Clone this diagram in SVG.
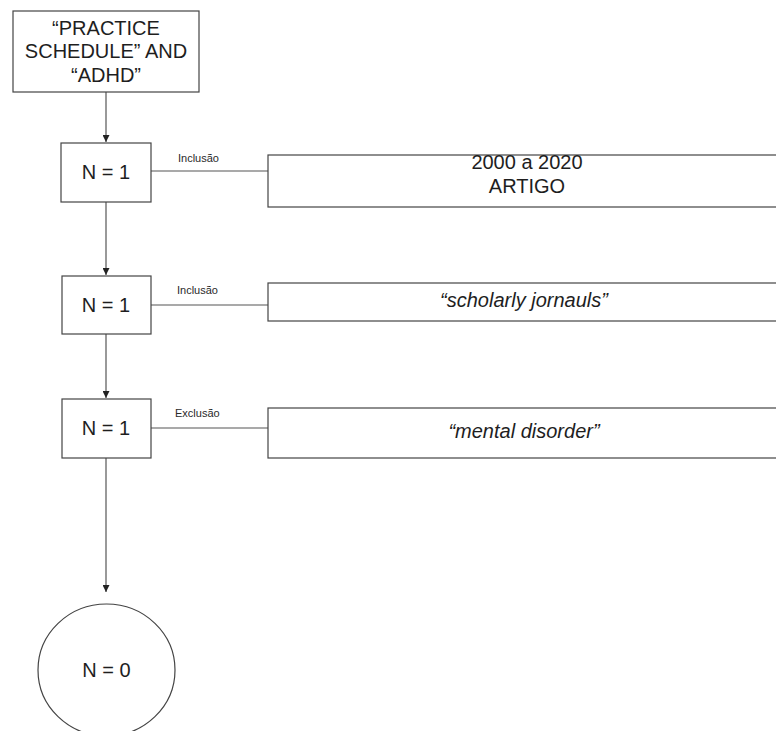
<svg xmlns="http://www.w3.org/2000/svg" width="776" height="731" viewBox="0 0 776 731">
  <style>
    .box { fill: #ffffff; stroke: #444444; stroke-width: 1.2; }
    .line { fill: none; stroke: #555555; stroke-width: 1.2; }
    .main { font-family: "Liberation Sans", Arial, sans-serif; font-size: 20px; fill: #1e1e1e; text-anchor: middle; }
    .it { font-style: italic; }
    .lbl { font-family: "Liberation Sans", Arial, sans-serif; font-size: 11px; fill: #2a2a2a; }
  </style>
  <defs>
    <marker id="arrow" viewBox="0 0 10 10" refX="10" refY="5" markerWidth="7" markerHeight="7" orient="auto" markerUnits="userSpaceOnUse">
      <path d="M0,0 L10,5 L0,10 Z" fill="#222222"/>
    </marker>
  </defs>
  <rect width="776" height="731" fill="#ffffff"/>

  <!-- connectors -->
  <g id="connectors">
    <line class="line" x1="106" y1="92" x2="106" y2="142" marker-end="url(#arrow)"/>
    <line class="line" x1="106" y1="202" x2="106" y2="275" marker-end="url(#arrow)"/>
    <line class="line" x1="106" y1="334" x2="106" y2="398" marker-end="url(#arrow)"/>
    <line class="line" x1="106" y1="458" x2="106" y2="592" marker-end="url(#arrow)"/>
    <line class="line" x1="151" y1="171" x2="268" y2="171"/>
    <line class="line" x1="151" y1="305" x2="268" y2="305"/>
    <line class="line" x1="151" y1="428" x2="268" y2="428"/>
    <text class="lbl" x="178" y="162">Inclusão</text>
    <text class="lbl" x="177" y="294">Inclusão</text>
    <text class="lbl" x="175" y="417">Exclusão</text>
  </g>

  <g id="query">
    <rect class="box" x="13" y="11" width="186" height="81"/>
    <text class="main" x="106" y="35">“PRACTICE</text>
    <text class="main" x="106" y="58">SCHEDULE” AND</text>
    <text class="main" x="106" y="82">“ADHD”</text>
  </g>

  <g id="step1">
    <rect class="box" x="61" y="143" width="90" height="59"/>
    <text class="main" x="106" y="179">N = 1</text>
  </g>
  <g id="filter1">
    <rect class="box" x="268" y="155" width="512" height="52"/>
    <text class="main" x="527" y="169">2000 a 2020</text>
    <text class="main" x="527" y="193">ARTIGO</text>
  </g>

  <g id="step2">
    <rect class="box" x="62" y="276" width="89" height="58"/>
    <text class="main" x="106" y="312">N = 1</text>
  </g>
  <g id="filter2">
    <rect class="box" x="268" y="283" width="512" height="38"/>
    <text class="main it" x="524" y="307">“scholarly jornauls”</text>
  </g>

  <g id="step3">
    <rect class="box" x="62" y="399" width="89" height="59"/>
    <text class="main" x="106" y="435">N = 1</text>
  </g>
  <g id="filter3">
    <rect class="box" x="268" y="408" width="512" height="50"/>
    <text class="main it" x="524" y="438">“mental disorder”</text>
  </g>

  <g id="result">
    <ellipse class="box" cx="106.5" cy="670" rx="68.5" ry="66"/>
    <text class="main" x="106.5" y="677">N = 0</text>
  </g>
</svg>
